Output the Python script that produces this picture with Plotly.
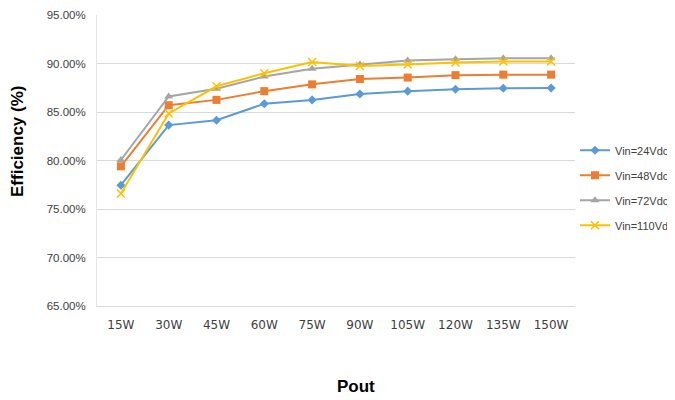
import plotly.graph_objects as go

categories = ["15W", "30W", "45W", "60W", "75W", "90W", "105W", "120W", "135W", "150W"]
vin24 = [77.45, 83.65, 84.15, 85.85, 86.25, 86.85, 87.15, 87.35, 87.45, 87.47]
vin48 = [79.4, 85.7, 86.25, 87.15, 87.85, 88.4, 88.55, 88.8, 88.85, 88.85]
vin72 = [80.05, 86.6, 87.4, 88.65, 89.45, 89.9, 90.3, 90.45, 90.55, 90.55]
vin110 = [76.6, 84.85, 87.65, 89.0, 90.15, 89.75, 89.9, 90.1, 90.2, 90.2]
series_names = ["Vin=24Vdc", "Vin=48Vdc", "Vin=72Vdc", "Vin=110Vdc"]
y_ticks = [65, 70, 75, 80, 85, 90, 95]

colors = ["#5b9bd5", "#ed7d31", "#a5a5a5", "#ffc000"]
symbols = ["diamond", "square", "triangle-up", "x-thin-open"]
sizes = [7, 8, 8, 8]

fig = go.Figure()
for i, (name, vals) in enumerate(zip(series_names, [vin24, vin48, vin72, vin110])):
    marker = dict(symbol=symbols[i], size=sizes[i], color=colors[i])
    if symbols[i] == "x-thin-open":
        marker["line"] = dict(color=colors[i], width=1.5)
    fig.add_trace(go.Scatter(
        x=categories, y=vals, name=name, mode="lines+markers",
        line=dict(color=colors[i], width=2), marker=marker,
        legendgroup=name,
    ))

# The page body has an 8px margin, so the figure is drawn 8px smaller and
# all pixel positions below are measured in figure coordinates (screen - 8).
OFF = 8
W, H = 675 - OFF, 400 - OFF
pl, pr, pt, pb = 97 - OFF, 575 - OFF, 15 - OFF, 306 - OFF

font_family = "Liberation Sans, Arial, sans-serif"
fig.update_layout(
    width=W, height=H,
    margin=dict(l=pl, r=W - pr, t=pt, b=H - pb, autoexpand=False),
    plot_bgcolor="white", paper_bgcolor="white",
    font=dict(family=font_family, color="#404040"),
    showlegend=True,
    legend=dict(x=1.0, xanchor="left", y=0.585, yanchor="top",
                font=dict(size=11, color="#404040", family=font_family),
                tracegroupgap=6, bgcolor="rgba(0,0,0,0)", itemwidth=30),
    xaxis=dict(
        type="category", showgrid=False, showline=True, linecolor="#d9d9d9", linewidth=1,
        ticks="", tickfont=dict(size=12, color="#404040", family="DejaVu Sans, sans-serif"),
        ticklabelstandoff=8,
        range=[-0.5, 9.5], automargin=False,
    ),
    yaxis=dict(
        range=[65, 95], tickvals=y_ticks, ticktext=[f"{v:.2f}%" for v in y_ticks],
        showgrid=True, gridcolor="#d9d9d9", gridwidth=1,
        showline=True, linecolor="#e6e6e6", zeroline=False,
        tickfont=dict(size=11.5, color="#404040", family=font_family),
        ticks="", ticklen=0, ticklabelstandoff=8, automargin=False,
    ),
    annotations=[
        dict(text="<b>Efficiency (%)</b>", x=17 - OFF, y=142 - OFF, xref="paper", yref="paper",
             showarrow=False, textangle=-90,
             font=dict(size=17, color="black", family=font_family)),
        dict(text="<b>Pout</b>", x=356 - OFF, y=386 - OFF, xref="paper", yref="paper",
             showarrow=False, font=dict(size=17, color="black", family=font_family)),
    ],
)
# convert pixel positions of titles into paper coordinates
for ann in fig.layout.annotations:
    px, py = ann.x, ann.y
    ann.x = (px - pl) / (pr - pl)
    ann.y = (pb - py) / (pb - pt)
    ann.xanchor = "center"
    ann.yanchor = "middle"

fig.write_html("out.html")
